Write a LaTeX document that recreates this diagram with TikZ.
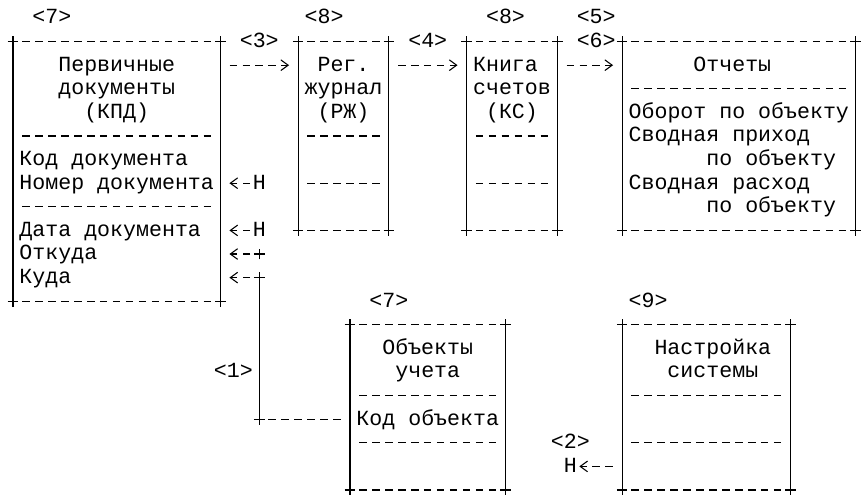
\documentclass[tikz,border=0pt]{standalone}
\usepackage{fontspec}
\setmonofont{Liberation Mono}
\usepackage{tikz}
\usetikzlibrary{arrows.meta}

\newcommand{\colw}{9.72pt}
\newcommand{\rowh}{17.7pt}
\newcommand{\plusmark}[1]{\draw (#1) +(-4pt,0) -- +(4pt,0) +(0,-4pt) -- +(0,4pt);}
\newcommand{\boxlines}[1]{%
  \draw (#1.north west) -- (#1.south west);
  \draw (#1.north east) -- (#1.south east);
  \draw[dashrow] (#1.north west) -- (#1.north east);
  \draw[dashrow] (#1.south west) -- (#1.south east);
  \foreach \k in {north west, north east, south west, south east}
    {\plusmark{#1.\k}}
}
\newcommand{\sepline}[2]{\draw[dashrow] (#1.west |- 0,#2) -- (#1.east |- 0,#2);}

\begin{document}
\begin{tikzpicture}[x=\colw, y=\rowh, line width=0.8pt]

\tikzstyle{every node}=[inner sep=0pt, outer sep=0pt, font=\ttfamily\fontsize{16.2}{17.7}\selectfont]
\tikzstyle{txt}=[anchor=base west, yshift=-4.4pt]
\tikzstyle{mid}=[anchor=base, yshift=-4.4pt]
\tikzstyle{frame}=[anchor=north west]
\tikzstyle{dashrow}=[dash pattern=on 5.64pt off 4.08pt, shorten <=6.9pt, shorten >=6.9pt]
\tikzstyle{arr}=[dash pattern=on 5.64pt off 4.08pt, -{Straight Barb[length=5.5pt, width=8pt]}]

\useasboundingbox (-1.003,0.763) rectangle (65.43,-20.17);

\draw (0,-1)  node[frame, minimum width=16*\colw, minimum height=11*\rowh] (kpd) {};
\draw (22,-1) node[frame, minimum width=7*\colw, minimum height=8*\rowh] (rzh) {};
\draw (35,-1) node[frame, minimum width=7*\colw, minimum height=8*\rowh] (ks) {};
\draw (47,-1) node[frame, minimum width=18*\colw, minimum height=8*\rowh] (otch) {};
\draw (26,-13) node[frame, minimum width=12*\colw, minimum height=7*\rowh] (obj) {};
\draw (47,-13) node[frame, minimum width=13*\colw, minimum height=7*\rowh] (nastr) {};

\boxlines{kpd}
\boxlines{rzh}
\boxlines{ks}
\boxlines{otch}
\boxlines{obj}
\boxlines{nastr}

\sepline{kpd}{-5}
\sepline{kpd}{-8}
\sepline{rzh}{-5}
\sepline{rzh}{-7}
\sepline{ks}{-5}
\sepline{ks}{-7}
\sepline{otch}{-3}
\sepline{obj}{-16}
\sepline{obj}{-18}
\sepline{nastr}{-16}
\sepline{nastr}{-18}

\draw (1.5,0)   node[txt] (n7a) {<7>}
      (22.5,0)  node[txt] (n8a) {<8>}
      (36.5,0)  node[txt] (n8b) {<8>}
      (43.5,0)  node[txt] (n5) {<5>}
      (17.5,-1) node[txt] (n3) {<3>}
      (30.5,-1) node[txt] (n4) {<4>}
      (43.5,-1) node[txt] (n6) {<6>};

\draw (8,-2)     node[mid] (kpd1) {Первичные}
      (8,-3)     node[mid] (kpd2) {документы}
      (8,-4)     node[mid] (kpd3) {(КПД)}
      (0.5,-6)   node[txt] (kod) {Код документа}
      (0.5,-7)   node[txt] (nom) {Номер документа}
      (0.5,-9)   node[txt] (dat) {Дата документа}
      (0.5,-10)  node[txt] (otk) {Откуда}
      (0.5,-11)  node[txt] (kud) {Куда};

\draw (25.5,-2) node[mid] (rzh1) {Рег.}
      (25.5,-3) node[mid] (rzh2) {журнал}
      (25.5,-4) node[mid] (rzh3) {(РЖ)};

\draw (35.5,-2) node[txt] (ks1) {Книга}
      (35.5,-3) node[txt] (ks2) {счетов}
      (38.5,-4) node[mid] (ks3) {(КС)};

\draw (52.5,-2) node[txt] (ot1) {Отчеты}
      (47.5,-4) node[txt] (ot2) {Оборот по объекту}
      (47.5,-5) node[txt] (ot3) {Сводная приход}
      (53.5,-6) node[txt] (ot4) {по объекту}
      (47.5,-7) node[txt] (ot5) {Сводная расход}
      (53.5,-8) node[txt] (ot6) {по объекту};

\draw (27.5,-12) node[txt] (n7b) {<7>}
      (47.5,-12) node[txt] (n9) {<9>}
      (15.5,-15) node[txt] (n1) {<1>}
      (41.5,-18) node[txt] (n2) {<2>};

\draw (32,-14)   node[mid] (obj1) {Объекты}
      (32,-15)   node[mid] (obj2) {учета}
      (26.5,-17) node[txt] (obj3) {Код объекта};

\draw (54,-14) node[mid] (ns1) {Настройка}
      (54,-15) node[mid] (ns2) {системы};

\draw (18.5,-7)  node[txt] (h1) {H}
      (18.5,-9)  node[txt] (h2) {H}
      (42.5,-19) node[txt] (h3) {H};

\coordinate (j1) at (19,-10);
\coordinate (j2) at (19,-11);
\coordinate (j3) at (19,-17);

\draw[arr, shorten <=6.9pt, shorten >=6.8pt] (kpd.east |- 0,-2) -- (rzh.west |- 0,-2);
\draw[arr, shorten <=6.9pt, shorten >=6.8pt] (rzh.east |- 0,-2) -- (ks.west |- 0,-2);
\draw[arr, shorten <=6.9pt, shorten >=6.8pt] (ks.east |- 0,-2) -- (otch.west |- 0,-2);

\draw[arr, shorten <=2pt, shorten >=6.8pt] (h1.west |- 0,-7) -- (kpd.east |- 0,-7);
\draw[arr, shorten <=2pt, shorten >=6.8pt] (h2.west |- 0,-9) -- (kpd.east |- 0,-9);
\draw[arr, shorten <=6.9pt, shorten >=6.8pt] (j1) -- (kpd.east |- j1);
\draw[arr, shorten <=6.9pt, shorten >=6.8pt] (j2) -- (kpd.east |- j2);
\draw (j2) -- (j3);
\draw[dashrow] (j3) -- (obj.west |- j3);
\plusmark{j1}
\plusmark{j2}
\plusmark{j3}

\draw[arr, shorten <=6.9pt, shorten >=1.9pt] (nastr.west |- 0,-19) -- (h3.east |- 0,-19);

\end{tikzpicture}
\end{document}
